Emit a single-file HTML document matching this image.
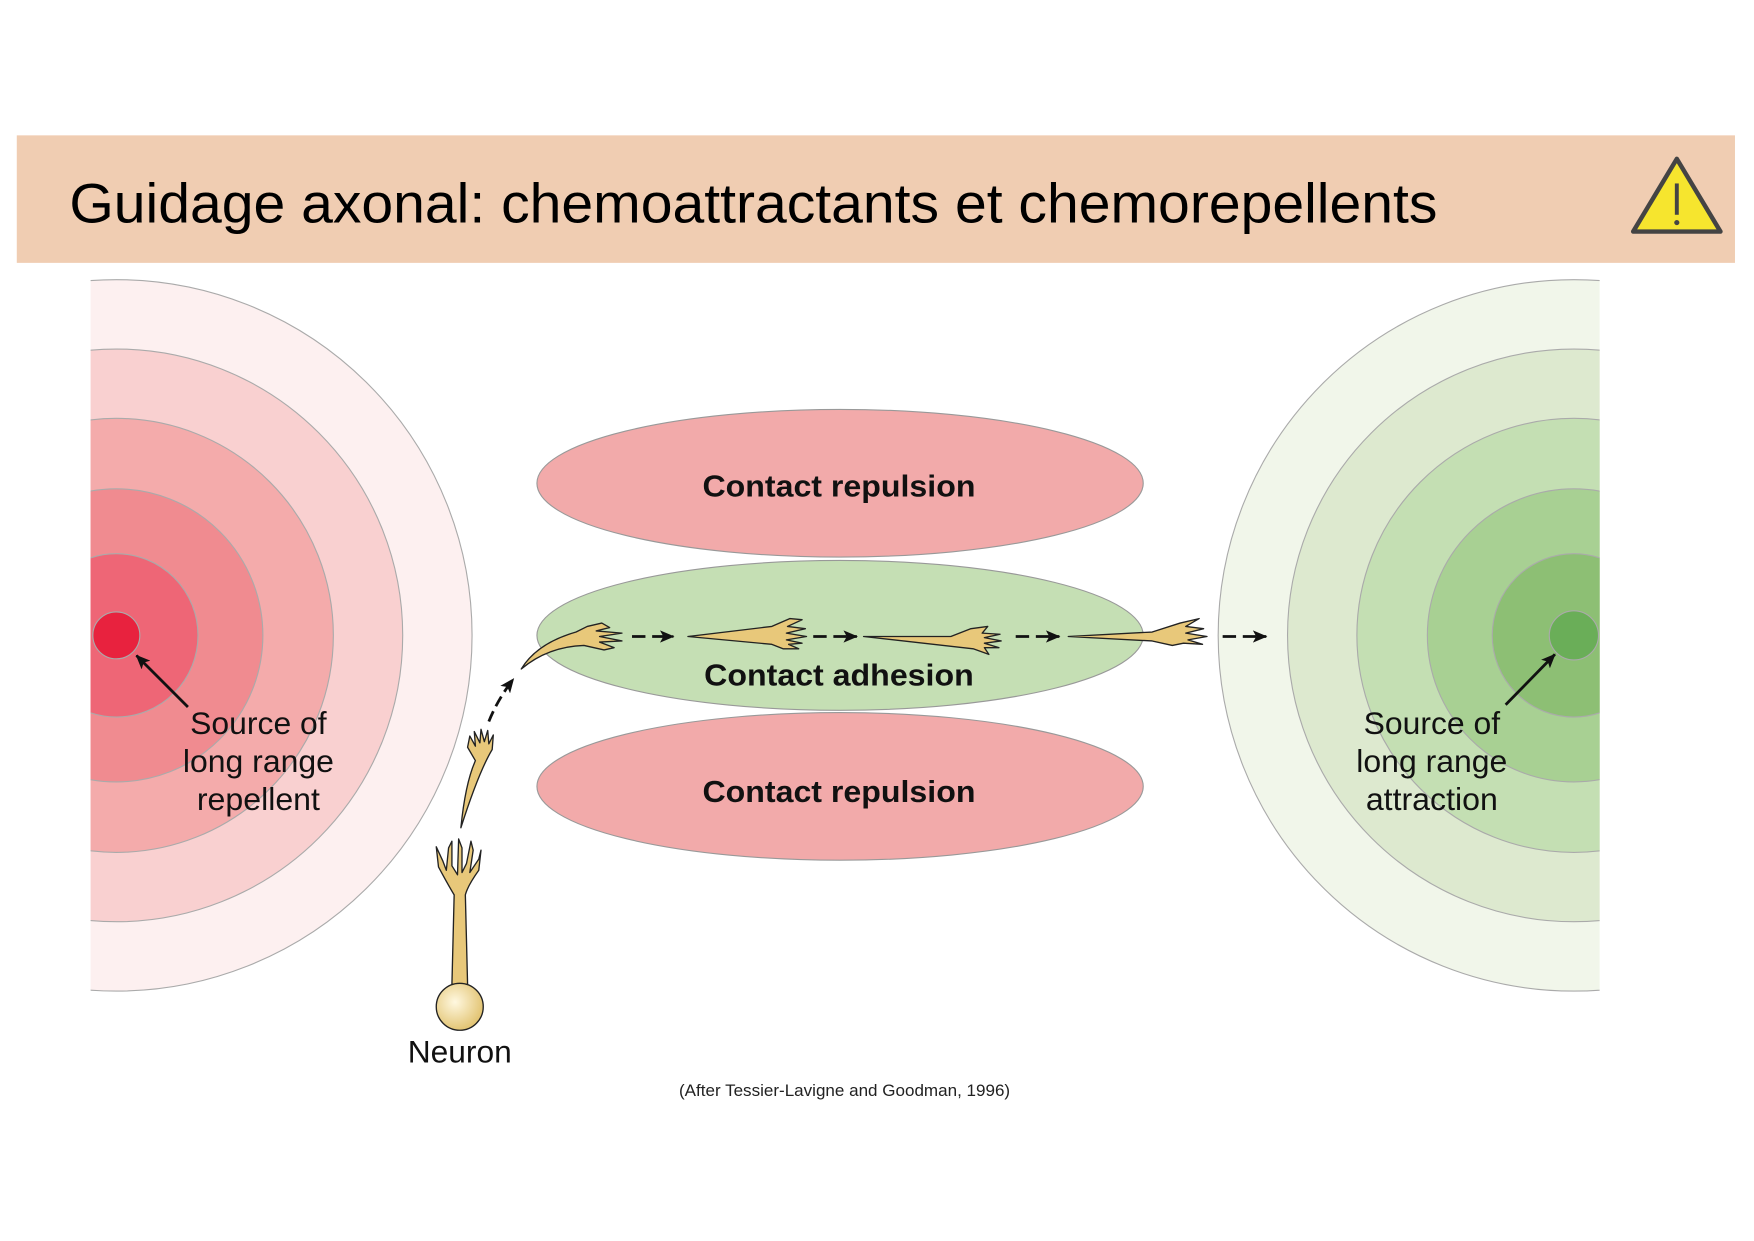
<!DOCTYPE html>
<html><head><meta charset="utf-8"><style>
html,body{margin:0;padding:0;background:#fff}
svg{display:block}
text{font-family:"Liberation Sans",Arial,sans-serif}
</style></head><body>
<svg width="1754" height="1241" viewBox="0 0 1754 1241" xmlns="http://www.w3.org/2000/svg">
<defs>
<clipPath id="cl"><rect x="81" y="240" width="400" height="660"/></clipPath>
<clipPath id="cr"><rect x="1050" y="240" width="380" height="660"/></clipPath>
<radialGradient id="soma" cx="0.4" cy="0.4" r="0.6"><stop offset="0" stop-color="#fff8e0"/><stop offset="1" stop-color="#e3c575"/></radialGradient>
<marker id="ah" markerWidth="13" markerHeight="11" refX="12" refY="5.5" orient="auto" markerUnits="userSpaceOnUse"><path d="M0,0 L13,5.5 L0,11 L3,5.5 Z" fill="#111"/></marker>
</defs>
<rect x="0" y="0" width="1754" height="1241" fill="#fff"/>
<g transform="scale(1.11862)">
<rect x="15" y="121" width="1536" height="114" fill="#f0cdb2"/>
<text x="62" y="199" font-size="50" fill="#000" textLength="1223" lengthAdjust="spacingAndGlyphs">Guidage axonal: chemoattractants et chemorepellents</text>
<polygon points="1499,142 1538,207 1460,207" fill="#f6e52e" stroke="#444" stroke-width="4" stroke-linejoin="round"/>
<line x1="1499" y1="164" x2="1499" y2="192" stroke="#444" stroke-width="3.5"/>
<circle cx="1499" cy="199" r="2.3" fill="#444"/>

<g clip-path="url(#cl)" stroke="#aaa" stroke-width="1">
<circle cx="104" cy="568" r="318" fill="#fdf0f0"/>
<circle cx="104" cy="568" r="256" fill="#f9d0d0"/>
<circle cx="104" cy="568" r="194" fill="#f4abab"/>
<circle cx="104" cy="568" r="131" fill="#f08b90"/>
<circle cx="104" cy="568" r="73" fill="#ee6676"/>
<circle cx="104" cy="568" r="21" fill="#e8223e"/>
</g>
<g clip-path="url(#cr)" stroke="#aaa" stroke-width="1">
<circle cx="1407" cy="568" r="318" fill="#f1f6ea"/>
<circle cx="1407" cy="568" r="256" fill="#dde9cf"/>
<circle cx="1407" cy="568" r="194" fill="#c4dfb3"/>
<circle cx="1407" cy="568" r="131" fill="#a8d093"/>
<circle cx="1407" cy="568" r="73" fill="#8dbf74"/>
<circle cx="1407" cy="568" r="22" fill="#6aae58"/>
</g>

<ellipse cx="751" cy="432" rx="271" ry="66" fill="#f2aaaa" stroke="#999" stroke-width="1"/>
<ellipse cx="751" cy="703" rx="271" ry="66" fill="#f2aaaa" stroke="#999" stroke-width="1"/>
<ellipse cx="751" cy="568" rx="271" ry="67" fill="#c5dfb4" stroke="#999" stroke-width="1"/>

<g font-weight="bold" font-size="27" text-anchor="middle" fill="#111">
<text x="750" y="444" textLength="244" lengthAdjust="spacingAndGlyphs">Contact repulsion</text>
<text x="750" y="613" textLength="241" lengthAdjust="spacingAndGlyphs">Contact adhesion</text>
<text x="750" y="717" textLength="244" lengthAdjust="spacingAndGlyphs">Contact repulsion</text>
</g>
<g font-size="28" text-anchor="middle" fill="#111">
<text x="231" y="656" textLength="122" lengthAdjust="spacingAndGlyphs">Source of</text>
<text x="231" y="690" textLength="135" lengthAdjust="spacingAndGlyphs">long range</text>
<text x="231" y="724" textLength="110" lengthAdjust="spacingAndGlyphs">repellent</text>
<text x="1280" y="656" textLength="122" lengthAdjust="spacingAndGlyphs">Source of</text>
<text x="1280" y="690" textLength="135" lengthAdjust="spacingAndGlyphs">long range</text>
<text x="1280" y="724" textLength="118" lengthAdjust="spacingAndGlyphs">attraction</text>
<text x="411" y="950" textLength="93" lengthAdjust="spacingAndGlyphs">Neuron</text>
</g>
<text x="755" y="980" font-size="14.5" text-anchor="middle" fill="#222" textLength="296" lengthAdjust="spacingAndGlyphs">(After Tessier-Lavigne and Goodman, 1996)</text>

<g stroke="#111" stroke-width="2.5" fill="none">
<line x1="168" y1="632" x2="122" y2="586" marker-end="url(#ah)"/>
<line x1="1346" y1="630" x2="1390" y2="585" marker-end="url(#ah)"/>
<line x1="565" y1="569" x2="602" y2="569" stroke-dasharray="12,6" marker-end="url(#ah)"/>
<line x1="727" y1="569" x2="766" y2="569" stroke-dasharray="12,6" marker-end="url(#ah)"/>
<line x1="908" y1="569" x2="947" y2="569" stroke-dasharray="12,6" marker-end="url(#ah)"/>
<line x1="1093" y1="569" x2="1132" y2="569" stroke-dasharray="12,6" marker-end="url(#ah)"/>
<path d="M437,645 Q445,625 459,607" stroke-dasharray="10,5" marker-end="url(#ah)"/>
</g>

<g fill="#e8c87a" stroke="#222" stroke-width="1.2" stroke-linejoin="round">
<path d="M466,598 Q480,575 515,565 L525,560 L538,557 L545,561 L533,564 L556,566 L536,569 L556,573 L536,574 L549,579 L540,581 L522,577 Q490,578 466,598 Z"/>
<path d="M615,569 L690,560 L706,553 L717,554 L704,560 L720,562 L703,566 L721,569 L703,572 L717,575 L705,576 L714,580 L700,580 L690,576 Z"/>
<path d="M772,569 L850,569 L868,562 L883,560 L878,566 L894,567 L880,570 L895,573 L880,575 L893,579 L880,579 L884,585 L870,580 Z"/>
<path d="M955,569 L1030,565 L1055,557 L1072,553 L1060,560 L1076,562 L1060,566 L1079,569 L1062,572 L1075,576 L1058,575 L1048,577 L1030,573 Z"/>
<path d="M412,740 Q416,700 425,680 L418,668 L420,658 L425,667 L424,654 L429,664 L430,652 L433,663 L436,653 L437,665 L441,657 L440,670 Q428,690 412,740 Z"/>
<path d="M404,880 L406,800 Q400,790 392,775 L390,757 L396,770 L399,778 L401,758 L404,752 L404,774 L409,782 L410,750 L413,758 L413,780 L417,772 L421,752 L423,760 L420,780 L428,768 L430,760 L428,778 Q418,792 416,800 L418,880 Z"/>
<circle cx="411" cy="900" r="21" fill="url(#soma)"/>
</g>
</g>
</svg>
</body></html>
